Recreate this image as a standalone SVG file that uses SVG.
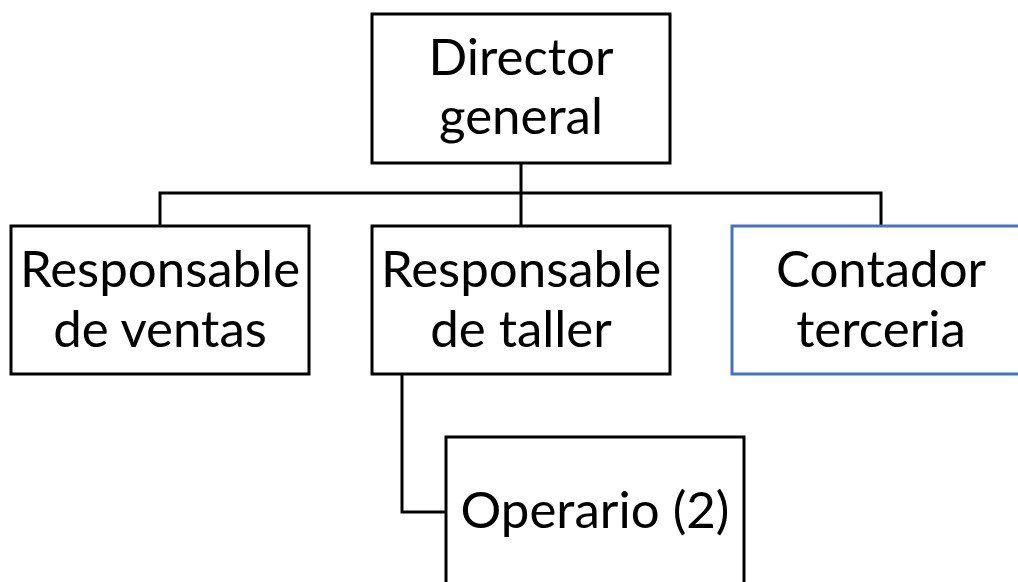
<svg xmlns="http://www.w3.org/2000/svg" width="1018" height="582" viewBox="0 0 1018 582">
<style>
.box{fill:#fff;stroke:#000;stroke-width:3}
.blue{stroke:#4472C4}
.conn{fill:none;stroke:#000;stroke-width:3}
text{font-family:Lato,"Liberation Sans",sans-serif;font-size:51px;fill:#000;text-anchor:middle}
</style>
<rect width="1018" height="582" fill="#fff"/>
<g id="connectors">
<path class="conn" d="M521,163 V226 M160,226 V193 H881 V226 M402,374 V512 H446"/>
</g>
<g id="director">
<rect class="box" x="372" y="14" width="298" height="149"/>
<text x="521" y="75">Director</text>
<text x="521" y="134">general</text>
</g>
<g id="ventas">
<rect class="box" x="11" y="226" width="298" height="148"/>
<text x="160" y="287">Responsable</text>
<text x="160" y="347">de ventas</text>
</g>
<g id="taller">
<rect class="box" x="372" y="226" width="298" height="148"/>
<text x="521" y="287">Responsable</text>
<text x="521" y="347">de taller</text>
</g>
<g id="contador">
<rect class="box blue" x="732" y="226" width="298" height="148"/>
<text x="881" y="287">Contador</text>
<text x="881" y="347">terceria</text>
</g>
<g id="operario">
<rect class="box" x="446" y="437" width="298" height="160"/>
<text x="595" y="528">Operario (2)</text>
</g>
</svg>
